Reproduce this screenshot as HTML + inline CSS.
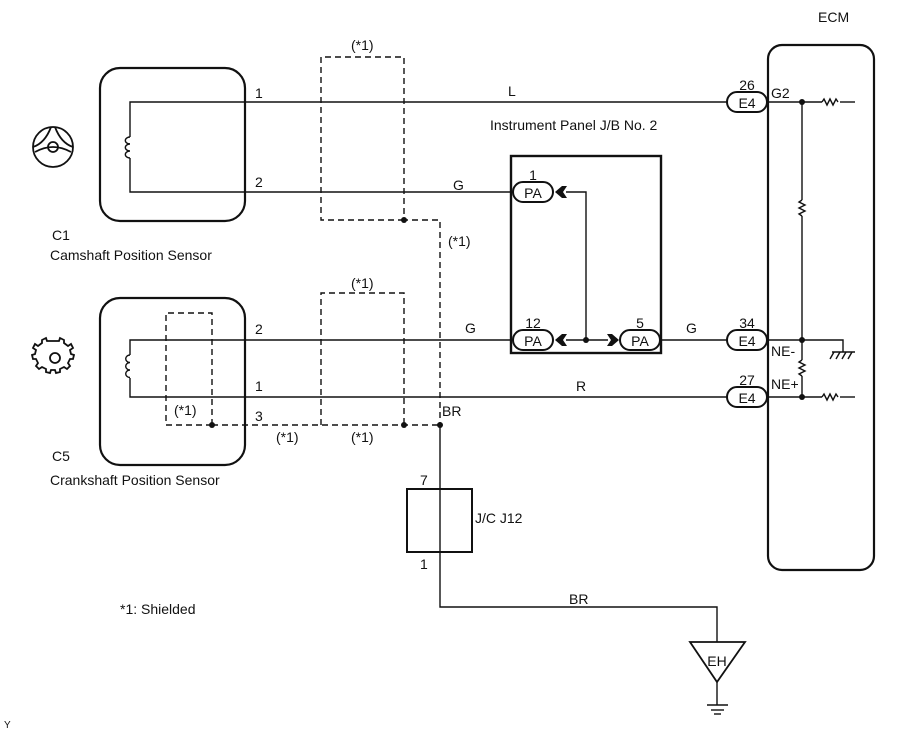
<!DOCTYPE html>
<html><head><style>
html,body{margin:0;padding:0;background:#fff;}
svg{display:block;}
text{font-family:"Liberation Sans",Arial,sans-serif;font-size:14px;fill:#111;}
</style></head><body>
<svg width="907" height="742" viewBox="0 0 907 742" xmlns="http://www.w3.org/2000/svg">
<g fill="none" stroke="#111" stroke-width="2.2">
<rect x="100" y="68" width="145" height="153" rx="20"/>
<rect x="100" y="298" width="145" height="167" rx="20"/>
<rect x="768" y="45" width="106" height="525" rx="14"/>
<rect x="511" y="156" width="150" height="197" stroke-width="2.4"/>
<rect x="407" y="489" width="65" height="63" stroke-width="2"/>
</g>
<g fill="none" stroke="#111" stroke-width="1.4">
<polyline points="727,102 130,102 130,137"/>
<polyline points="513,192 130,192 130,158"/>
<path d="M130,137 a4,3 0 1 0 0,7 a4,3 0 1 0 0,7 a4,3 0 1 0 0,7"/>
<polyline points="513,340 130,340 130,355"/>
<polyline points="727,397 130,397 130,378"/>
<path d="M130,355 a4,3.5 0 1 0 0,7.5 a4,3.5 0 1 0 0,7.5 a4,3.5 0 1 0 0,7.5"/>
<polyline points="566,192 586,192 586,340"/>
<line x1="566" y1="340" x2="608" y2="340"/>
<line x1="660" y1="340" x2="727" y2="340"/>
<line x1="768" y1="102" x2="822" y2="102"/>
<line x1="840" y1="102" x2="855" y2="102"/>
<path d="M822,102 l2,-3 l3,6 l3,-6 l3,6 l3,-6 l2,3"/>
<line x1="768" y1="397" x2="822" y2="397"/>
<line x1="840" y1="397" x2="855" y2="397"/>
<path d="M822,397 l2,-3 l3,6 l3,-6 l3,6 l3,-6 l2,3"/>
<line x1="802" y1="102" x2="802" y2="200"/>
<path d="M802,200 l-3,2 l6,3 l-6,3 l6,3 l-6,3 l3,2"/>
<line x1="802" y1="216" x2="802" y2="360"/>
<path d="M802,360 l-3,2 l6,3 l-6,3 l6,3 l-6,3 l3,2"/>
<line x1="802" y1="376" x2="802" y2="397"/>
<polyline points="768,340 843,340 843,352"/>
<line x1="832" y1="352" x2="855" y2="352"/>
<line x1="834" y1="352" x2="830" y2="359"/><line x1="840" y1="352" x2="836" y2="359"/><line x1="846" y1="352" x2="842" y2="359"/><line x1="852" y1="352" x2="848" y2="359"/>
<polyline points="440,425 440,607 717,607 717,642"/>
<polygon points="690,642 745,642 717,682" stroke-width="1.8"/>
<line x1="717" y1="682" x2="717" y2="705"/>
<line x1="707" y1="705" x2="728" y2="705"/>
<line x1="711" y1="710" x2="724" y2="710"/>
<line x1="714" y1="714" x2="721" y2="714"/>
</g>
<g fill="none" stroke="#111" stroke-width="1.4" stroke-dasharray="6,4">
<polyline points="404,220 321,220 321,57 404,57 404,220 440,220 440,425"/>
<polyline points="321,425 321,293 404,293 404,425"/>
<polyline points="212,425 166,425 166,313 212,313 212,425"/>
<line x1="212" y1="425" x2="440" y2="425"/>
</g>
<g fill="#111">
<circle cx="404" cy="220" r="3"/><circle cx="212" cy="425" r="3"/><circle cx="404" cy="425" r="3"/><circle cx="440" cy="425" r="3"/>
<circle cx="586" cy="340" r="3"/><circle cx="802" cy="102" r="3"/><circle cx="802" cy="340" r="3"/><circle cx="802" cy="397" r="3"/>
<path d="M555,192 l7,-6 h5 l-4,6 l4,6 h-5 z"/>
<path d="M555,340 l7,-6 h5 l-4,6 l4,6 h-5 z"/>
<path d="M619,340 l-7,-6 h-5 l4,6 l-4,6 h5 z"/>
</g>
<g fill="#fff" stroke="#111" stroke-width="2">
<rect x="513" y="182" width="40" height="20" rx="10"/>
<rect x="513" y="330" width="40" height="20" rx="10"/>
<rect x="620" y="330" width="40" height="20" rx="10"/>
<rect x="727" y="92" width="40" height="20" rx="10"/>
<rect x="727" y="330" width="40" height="20" rx="10"/>
<rect x="727" y="387" width="40" height="20" rx="10"/>
</g>
<g text-anchor="middle" style="font-size:15px">
<text x="533" y="198">PA</text><text x="533" y="346">PA</text><text x="640" y="346">PA</text>
<text x="747" y="108">E4</text><text x="747" y="346">E4</text><text x="747" y="403">E4</text>
<text x="533" y="180">1</text><text x="533" y="328">12</text><text x="640" y="328">5</text>
<text x="747" y="90">26</text><text x="747" y="328">34</text><text x="747" y="385">27</text>
<text x="717" y="666">EH</text>
</g>
<g fill="none" stroke="#111" stroke-width="1.8">
<circle cx="53" cy="147" r="20"/><circle cx="53" cy="147" r="5"/>
<path d="M33,147 q12,-4 18,-20 M73,147 q-12,-4 -18,-20 M35,152 q18,-10 36,0"/>
<circle cx="55" cy="358" r="5"/>
<path d="M55,341 l4,0 l1,-3 l4,2 l0,3 l4,3 l3,-2 l2,4 l-3,2 l1,4 l3,1 l-1,4 l-3,0 l-2,4 l2,3 l-3,3 l-3,-2 l-4,2 l0,3 l-4,1 l-1,-3 l-4,0 l-1,3 l-4,-1 l0,-3 l-4,-2 l-3,2 l-3,-3 l2,-3 l-2,-4 l-3,0 l-1,-4 l3,-1 l1,-4 l-3,-2 l2,-4 l3,2 l4,-3 l0,-3 l4,-2 l1,3 z"/>
</g>
<g style="font-size:15px">
<text x="818" y="22">ECM</text>
<text x="351" y="50">(*1)</text>
<text x="351" y="288">(*1)</text>
<text x="448" y="246">(*1)</text>
<text x="174" y="415">(*1)</text>
<text x="276" y="442">(*1)</text>
<text x="351" y="442">(*1)</text>
<text x="255" y="98">1</text><text x="255" y="187">2</text>
<text x="255" y="334">2</text><text x="255" y="391">1</text><text x="255" y="421">3</text>
<text x="508" y="96">L</text><text x="453" y="190">G</text>
<text x="465" y="333">G</text><text x="686" y="333">G</text>
<text x="576" y="391">R</text>
<text x="442" y="416">BR</text>
<text x="569" y="604">BR</text>
<text x="490" y="130">Instrument Panel J/B No. 2</text>
<text x="771" y="98">G2</text>
<text x="771" y="356">NE-</text>
<text x="771" y="389">NE+</text>
<text x="52" y="240">C1</text>
<text x="50" y="260">Camshaft Position Sensor</text>
<text x="52" y="461">C5</text>
<text x="50" y="485">Crankshaft Position Sensor</text>
<text x="420" y="485">7</text>
<text x="420" y="569">1</text>
<text x="475" y="523">J/C J12</text>
<text x="120" y="614">*1: Shielded</text>
</g>
<text x="4" y="728" style="font-size:10px">Y</text>
</svg>
</body></html>
